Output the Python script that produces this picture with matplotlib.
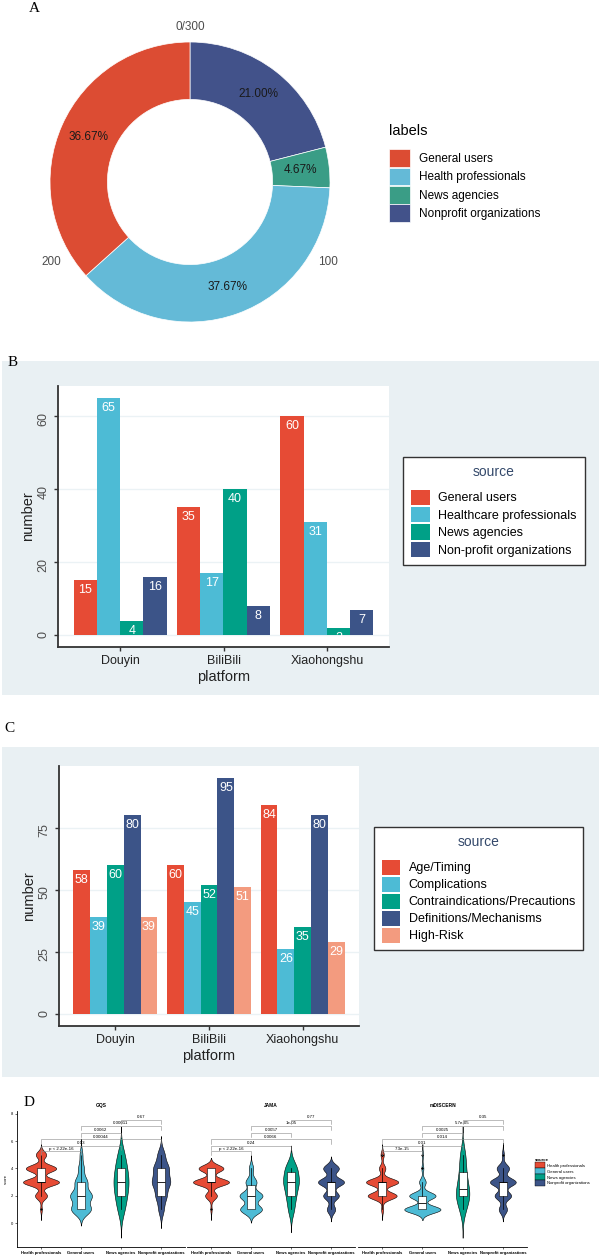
import numpy as np
import matplotlib.pyplot as plt
from matplotlib import mlab
from matplotlib.patches import Patch, Rectangle

plt.rcParams['font.family'] = ['Liberation Sans', 'DejaVu Sans']

W, H = 601, 1259


def px(left, top, right, bottom):
    # pixel box (from top-left) -> figure fraction rect
    return [left / W, 1 - bottom / H, (right - left) / W, (bottom - top) / H]


def fx(x):
    return x / W


def fy(y):
    return 1 - y / H


# ---------------- data ----------------
# A: video sources
a_labels = ['General users', 'Health professionals', 'News agencies', 'Nonprofit organizations']
a_counts = [110, 113, 14, 63]
a_ticks = [0, 100, 200]
a_tick_labels = ['0/300', '100', '200']

# B: sources per platform
platforms = ['Douyin', 'BiliBili', 'Xiaohongshu']
b_sources = ['General users', 'Healthcare professionals', 'News agencies', 'Non-profit organizations']
b_general = [15, 35, 60]
b_health = [65, 17, 31]
b_news = [4, 40, 2]
b_nonprofit = [16, 8, 7]

# C: content topics per platform
c_topics = ['Age/Timing', 'Complications', 'Contraindications/Precautions',
            'Definitions/Mechanisms', 'High-Risk']
c_age = [58, 60, 84]
c_comp = [39, 45, 26]
c_contra = [60, 52, 35]
c_def = [80, 95, 80]
c_high = [39, 51, 29]

# D: score counts (score -> number of videos) per source
d_sources = ['Health professionals', 'General users', 'News agencies', 'Nonprofit organizations']
gqs_scores = [1, 2, 3, 4, 5]
gqs_health = [2, 15, 45, 38, 13]
gqs_general = [35, 38, 22, 10, 5]
gqs_news = [2, 3, 4, 3, 2]
gqs_nonprofit = [6, 12, 20, 17, 8]
jama_scores = [1, 2, 3, 4]
jama_health = [2, 18, 55, 38]
jama_general = [40, 42, 20, 8]
jama_news = [2, 3, 5, 4]
jama_nonprofit = [8, 15, 25, 15]
mdiscern_scores = [1, 2, 3, 4, 5]
mdiscern_health = [3, 45, 50, 10, 5]
mdiscern_general = [55, 40, 10, 3, 2]
mdiscern_news = [2, 5, 3, 2, 2]
mdiscern_nonprofit = [8, 16, 25, 12, 2]
bracket_pairs = [(1, 2), (1, 3), (1, 4), (2, 3), (2, 4), (3, 4)]
bracket_y = [5.25, 5.65, 6.12, 6.6, 7.1, 7.57]
gqs_p = ['p < 2.22e-16', '0.13', '0.00044', '0.0062', '0.00011', '0.67']
jama_p = ['p < 2.22e-16', '0.24', '0.0066', '0.0057', '1e-05', '0.77']
mdiscern_p = ['7.3e-15', '0.01', '0.014', '0.0025', '5.7e-05', '0.35']

npg = ['#E64B35', '#4DBBD5', '#00A087', '#3C5488', '#F39B7F']
a_colors = ['#DC4C33', '#64BAD7', '#3A9D86', '#42528A']
bg = '#E9F0F3'
dark = '#333333'

fig = plt.figure(figsize=(W / 100, H / 100), dpi=100)

for letter, (x, y) in zip('ABCD', [(34, 8), (13, 362), (9, 729), (29, 1103)]):
    fig.text(fx(x), fy(y), letter, family='Liberation Serif', fontsize=11,
             ha='center', va='center')

# ---------------- A: donut ----------------
ax = fig.add_axes(px(190 - 168, 182 - 168, 190 + 168, 182 + 168))
ax.pie(a_counts[::-1], colors=a_colors[::-1], startangle=90, counterclock=False,
       wedgeprops=dict(width=0.41, edgecolor='white', linewidth=0.5),
       autopct=lambda p: '%.2f%%' % p, pctdistance=0.795,
       textprops=dict(fontsize=8.5, color='#1a1a1a'))
ax.set_xlim(-1.2, 1.2)
ax.set_ylim(-1.2, 1.2)
ax.set_aspect('equal')
ax.axis('off')
total = sum(a_counts)
for v, lab in zip(a_ticks, a_tick_labels):
    ang = np.deg2rad(90 - v / total * 360)
    r = 1.11 if v == 0 else 1.14
    ax.text(r * np.cos(ang), r * np.sin(ang), lab, ha='center', va='center',
            fontsize=8.5, color='#4d4d4d')

leg = fig.legend([Patch(facecolor=c, edgecolor='white', lw=0.5) for c in a_colors], a_labels,
                 title='labels', loc='upper left', bbox_to_anchor=(fx(389), fy(124)),
                 frameon=False, fontsize=8.5, title_fontsize=10.5, alignment='left',
                 handlelength=1.78, handleheight=1.95, labelspacing=0.05,
                 handletextpad=0.76, borderpad=0, borderaxespad=0)
leg._legend_box.sep = 8


# ---------------- B and C: grouped bars ----------------
def bar_panel(rect, series, colors, yticks):
    ax = fig.add_axes(rect)
    ax.set_facecolor('white')
    n = len(series)
    width = 0.9 / n
    x = np.arange(1, len(platforms) + 1)
    for i, (vals, col) in enumerate(zip(series, colors)):
        pos = x + (i - (n - 1) / 2) * width
        ax.bar(pos, vals, width, color=col, zorder=2)
        for p, v in zip(pos, vals):
            ax.annotate(str(v), (p, v), xytext=(0, -10), textcoords='offset pixels',
                        ha='center', va='center', color='white', fontsize=9, zorder=3)
    top = max(max(s) for s in series)
    ax.set_ylim(-0.05 * top, 1.05 * top)
    ax.set_xlim(0.4, len(platforms) + 0.6)
    ax.set_yticks(yticks)
    ax.set_xticks(x, platforms)
    ax.grid(axis='y', color='#EBF2F5', lw=1, zorder=0)
    ax.set_axisbelow(True)
    for s in ['top', 'right']:
        ax.spines[s].set_visible(False)
    for s in ['left', 'bottom']:
        ax.spines[s].set_color(dark)
        ax.spines[s].set_linewidth(1.3)
    ax.tick_params(length=3, width=1, color=dark, labelsize=9, pad=3)
    ax.tick_params(axis='y', labelrotation=90, labelcolor='#4d4d4d')
    ax.tick_params(axis='x', labelcolor='#222222')
    ax.set_xlabel('platform', fontsize=10.5, color='#222222', labelpad=2)
    ax.set_ylabel('number', fontsize=10.5, color='#222222', labelpad=2)
    return ax


def bar_legend(labels, colors, anchor, hlen, hh, lsp):
    leg = fig.legend([Patch(facecolor=c, edgecolor='none') for c in colors], labels,
                     title='source', loc='upper left', bbox_to_anchor=anchor,
                     fontsize=9, title_fontsize=10, handlelength=hlen, handleheight=hh,
                     labelspacing=lsp, handletextpad=0.72, borderpad=0.6, borderaxespad=0,
                     fancybox=False, framealpha=1, edgecolor='#333333')
    leg.get_frame().set_linewidth(1.0)
    leg.get_title().set_color('#34496B')
    leg._legend_box.sep = 8
    return leg


fig.add_artist(Rectangle((fx(2), fy(695)), 597 / W, 334 / H, transform=fig.transFigure,
                         facecolor=bg, edgecolor='none', zorder=-5))
bar_panel(px(58, 386, 389, 647), [b_general, b_health, b_news, b_nonprofit], npg[:4], [0, 20, 40, 60])
bar_legend(b_sources, npg[:4], (fx(403), fy(457)), 1.52, 1.52, 0.16)

fig.add_artist(Rectangle((fx(2), fy(1077)), 597 / W, 330 / H, transform=fig.transFigure,
                         facecolor=bg, edgecolor='none', zorder=-5))
bar_panel(px(59, 766, 359, 1026), [c_age, c_comp, c_contra, c_def, c_high], npg, [0, 25, 50, 75])
bar_legend(c_topics, npg, (fx(374), fy(827)), 1.44, 1.5, 0.14)


# ---------------- D: violins ----------------
def violin_facet(ax, title, scores, counts_list, pvals, first=False):
    data = [np.repeat(np.array(scores, float), c) for c in counts_list]
    stats = []
    for d in data:
        iqr = np.subtract(*np.percentile(d, [75, 25]))
        sd = d.std(ddof=1)
        bw = 0.9 * min(sd, iqr / 1.34) * len(d) ** -0.2
        kde = mlab.GaussianKDE(d, bw_method=bw / sd)
        coords = np.linspace(d.min() - 3 * bw, d.max() + 3 * bw, 400)
        stats.append(dict(coords=coords, vals=kde(coords), mean=d.mean(), median=np.median(d),
                          min=d.min(), max=d.max(), quantiles=[]))
    peak = max(s['vals'].max() for s in stats)
    widths = [0.9 * s['vals'].max() / peak for s in stats]
    pos = np.arange(1, len(data) + 1)
    parts = ax.violin(stats, positions=pos, widths=widths, showmeans=False,
                      showextrema=False, showmedians=False)
    for body, col in zip(parts['bodies'], npg):
        body.set_facecolor(col)
        body.set_edgecolor('black')
        body.set_linewidth(0.4)
        body.set_alpha(1)
        body.set_zorder(2)
    ax.boxplot(data, positions=pos, widths=0.2, patch_artist=True, showcaps=False,
               manage_ticks=False, zorder=3,
               boxprops=dict(facecolor='white', edgecolor='black', linewidth=0.4),
               medianprops=dict(color='black', linewidth=0.6),
               whiskerprops=dict(color='black', linewidth=0.5),
               flierprops=dict(marker='o', markersize=1.3, markerfacecolor='black',
                               markeredgecolor='none'))
    for (i, j), y, p in zip(bracket_pairs, bracket_y, pvals):
        ax.plot([i, i, j, j], [y - 0.3, y, y, y - 0.3], color='#8a8a8a', lw=0.4, zorder=4)
        ax.text((i + j) / 2, y + 0.04, p, ha='center', va='bottom', fontsize=3.2, zorder=4)
    ax.set_xlim(0.4, 4.6)
    ax.set_ylim(-1.75, 8.2)
    ax.set_xticks(pos, d_sources, fontsize=3, fontweight='bold')
    ax.set_title(title, fontsize=3.5, fontweight='bold', pad=3)
    ax.spines['top'].set_visible(False)
    ax.spines['right'].set_visible(False)
    ax.spines['bottom'].set_linewidth(0.6)
    ax.tick_params(length=1.5, width=0.4, pad=1.2)
    if first:
        ax.spines['left'].set_linewidth(0.6)
        ax.set_yticks([0, 2, 4, 6, 8])
        ax.tick_params(axis='y', labelsize=3)
        ax.set_ylabel('score', fontsize=3, labelpad=2)
    else:
        ax.spines['left'].set_visible(False)
        ax.set_yticks([])


violin_facet(fig.add_axes(px(17, 1111, 185, 1247)), 'GQS', gqs_scores,
             [gqs_health, gqs_general, gqs_news, gqs_nonprofit], gqs_p, first=True)
violin_facet(fig.add_axes(px(187, 1111, 355, 1247)), 'JAMA', jama_scores,
             [jama_health, jama_general, jama_news, jama_nonprofit], jama_p)
violin_facet(fig.add_axes(px(358, 1111, 527, 1247)), 'mDISCERN', mdiscern_scores,
             [mdiscern_health, mdiscern_general, mdiscern_news, mdiscern_nonprofit], mdiscern_p)

leg = fig.legend([Patch(facecolor=c, edgecolor='black', lw=0.3) for c in npg[:4]], d_sources,
                 title='source', loc='upper left', bbox_to_anchor=(fx(535), fy(1158)),
                 frameon=False, fontsize=3.1, alignment='left',
                 title_fontproperties=dict(size=3.2, weight='bold'),
                 handlelength=2.3, handleheight=1.6, labelspacing=0.1,
                 handletextpad=0.5, borderpad=0, borderaxespad=0)

fig.savefig('out.png', dpi=100)
